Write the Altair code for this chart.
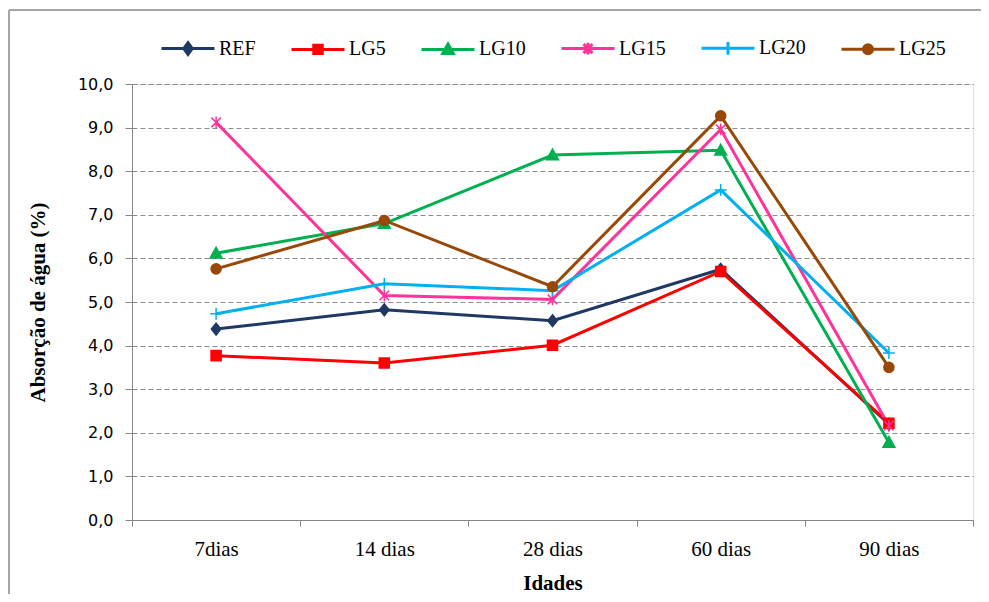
import altair as alt
import pandas as pd

categories = ["7dias", "14 dias", "28 dias", "60 dias", "90 dias"]
series = ["REF", "LG5", "LG10", "LG15", "LG20", "LG25"]
REF = [4.38, 4.82, 4.57, 5.75, 2.20]
LG5 = [3.77, 3.60, 4.01, 5.70, 2.22]
LG10 = [6.12, 6.80, 8.37, 8.48, 1.78]
LG15 = [9.12, 5.15, 5.06, 8.96, 2.16]
LG20 = [4.73, 5.42, 5.26, 7.57, 3.83]
LG25 = [5.76, 6.87, 5.35, 9.27, 3.50]
y_ticks = [0, 1, 2, 3, 4, 5, 6, 7, 8, 9, 10]

colors = ["#1F3864", "#FF0000", "#00B050", "#FF3399", "#00B0F0", "#984807"]
fills = ["#1F3864", "#FF0000", "#00B050", "transparent", "transparent", "#984807"]
point_shapes = [
    "M0,-1L0.8,0L0,1L-0.8,0Z",
    "M-0.85,-0.85H0.85V0.85H-0.85Z",
    "M0,-1L1,0.8H-1Z",
    "M-0.8,-0.8L0.8,0.8M-0.8,0.8L0.8,-0.8M0,-1V1",
    "M-1,0H1M0,-1V1",
    "M0.85,0A0.85,0.85,0,1,1,-0.85,0A0.85,0.85,0,1,1,0.85,0Z",
]
legend_shapes = [
    "M-1,0H1M0,-0.22L0.16,0L0,0.22L-0.16,0Z",
    "M-1,0H1M-0.16,-0.16H0.16V0.16H-0.16Z",
    "M-1,0H1M0,-0.2L0.2,0.16H-0.2Z",
    "M-1,0H1M-0.17,-0.17L0.17,0.17M-0.17,0.17L0.17,-0.17M0,-0.22V0.22",
    "M-1,0H1M0,-0.24V0.24",
    "M-1,0H1M0.17,0A0.17,0.17,0,1,1,-0.17,0A0.17,0.17,0,1,1,0.17,0Z",
]

values = {"REF": REF, "LG5": LG5, "LG10": LG10, "LG15": LG15, "LG20": LG20, "LG25": LG25}
rows = []
for s in series:
    for c, v in zip(categories, values[s]):
        rows.append({"series": s, "cat": c, "value": v})
df = pd.DataFrame(rows)

W, H = 841, 436
SERIF = "Liberation Serif"

x_enc = alt.X(
    "cat:N",
    sort=categories,
    bandPosition=0.5,
    scale=alt.Scale(type="band", domain=categories, paddingInner=0, paddingOuter=0),
    axis=alt.Axis(
        title="Idades",
        titleFont=SERIF, titleFontSize=21, titleFontWeight="bold", titleColor="#000000",
        titleX=W / 2, titleY=63, titleBaseline="middle", titleAlign="center",
        labelFont=SERIF, labelFontSize=21, labelColor="#000000", labelAngle=0,
        labelPadding=12,
        tickBand="extent", tickSize=6, tickColor="#868686",
        domainColor="#868686", grid=False,
    ),
)
y_enc = alt.Y(
    "value:Q",
    scale=alt.Scale(domain=[0, 10], nice=False),
    axis=alt.Axis(
        title="Absorção de água (%)",
        titleFont=SERIF, titleFontSize=21, titleFontWeight="bold", titleColor="#000000",
        titleX=-94, titleY=H / 2, titleAngle=-90, titleBaseline="middle", titleAlign="center",
        values=y_ticks,
        labelExpr="replace(format(datum.value, '.1f'), '.', ',')",
        labelFont="DejaVu Sans", labelFontSize=16, labelColor="#000000",
        labelPadding=12,
        tickSize=7, tickColor="#868686", domainColor="#868686",
        grid=True, gridColor="#8C8C8C", gridDash=[5, 3], gridWidth=1,
    ),
)

base = alt.Chart(df)

lines = base.mark_line(strokeWidth=3).encode(
    x=x_enc,
    y=y_enc,
    color=alt.Color("series:N", scale=alt.Scale(domain=series, range=colors), legend=None),
    order=alt.Order("cat_order:Q"),
).transform_calculate(cat_order="indexof(" + str(categories) + ", datum.cat)")

points = base.mark_point(filled=True, size=140, strokeWidth=1.5, opacity=1).encode(
    x=x_enc,
    y=y_enc,
    shape=alt.Shape("series:N", scale=alt.Scale(domain=series, range=point_shapes), legend=None),
    fill=alt.Fill("series:N", scale=alt.Scale(domain=series, range=fills), legend=None),
    stroke=alt.Stroke("series:N", scale=alt.Scale(domain=series, range=colors), legend=None),
)

leg = alt.Legend(
    title=None, orient="none", direction="horizontal", legendX=28, legendY=-64,
    symbolSize=2809, symbolStrokeWidth=3, symbolOpacity=1, labelOffset=3, columnPadding=29,
    labelFont=SERIF, labelFontSize=20, labelColor="#000000",
)
legend_layer = base.mark_point(filled=True, strokeWidth=3, opacity=1).encode(
    x=x_enc,
    y=y_enc,
    shape=alt.Shape("series:N", scale=alt.Scale(domain=series, range=legend_shapes), legend=leg),
    fill=alt.Fill("series:N", scale=alt.Scale(domain=series, range=fills), legend=leg),
    stroke=alt.Stroke("series:N", scale=alt.Scale(domain=series, range=colors), legend=leg),
).transform_filter("datum.value < -100")

frame_top = alt.Chart(pd.DataFrame({"a": [0]})).mark_rule(color="#A6A6A6", strokeWidth=2).encode(
    x=alt.value(-123), x2=alt.value(860), y=alt.value(-74)
)
frame_left = alt.Chart(pd.DataFrame({"a": [0]})).mark_rule(color="#A6A6A6", strokeWidth=2).encode(
    x=alt.value(-123), y=alt.value(-74), y2=alt.value(530)
)

chart = alt.layer(frame_top, frame_left, lines, points, legend_layer).resolve_scale(
    shape="independent", fill="independent", stroke="independent"
).properties(
    width=W, height=H,
    autosize=alt.AutoSizeParams(type="none"),
    padding={"left": 124, "top": 76, "right": 8, "bottom": 74},
).configure_view(stroke=None).configure(background="white")

chart.save("out.html", embed_options={"renderer": "svg", "actions": False})
